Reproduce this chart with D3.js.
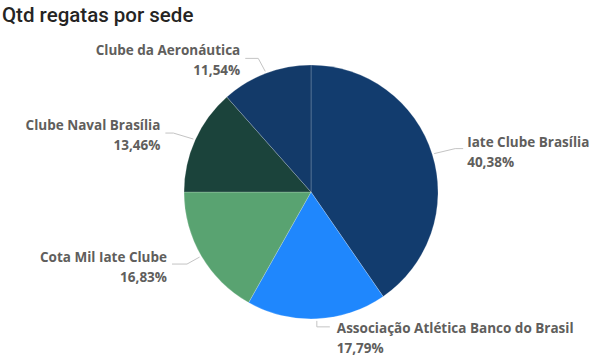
<!DOCTYPE html>
<html><head><meta charset="utf-8">
<script src="https://cdn.jsdelivr.net/npm/d3@7"></script>
<style>
body{margin:0;background:#fff;}
svg{display:block;}
</style></head>
<body>
<script>
const categories = ["Iate Clube Brasília","Associação Atlética Banco do Brasil","Cota Mil Iate Clube","Clube Naval Brasília","Clube da Aeronáutica"];
const values = [84, 37, 35, 28, 24];
const colors = ["#123c6e","#1f87fd","#59a371","#1b433b","#133a69"];

const W = 604, H = 357;
const cx = 311, cy = 192, r = 127;
const svg = d3.select("body").append("svg").attr("width", W).attr("height", H);

svg.append("text").attr("x", 2).attr("y", 22)
  .style("font-family", "Roboto, sans-serif").style("font-size", "20.5px").style("font-weight", 500)
  .attr("fill", "#252423").text("Qtd regatas por sede");

const data = categories.map((c, i) => ({name: c, value: values[i], color: colors[i]}));
const total = d3.sum(values);
const pie = d3.pie().value(d => d.value).sort(null);
const arcs = pie(data);
const arc = d3.arc().innerRadius(0).outerRadius(r);
const g = svg.append("g").attr("transform", `translate(${cx},${cy})`);
g.selectAll("path").data(arcs).join("path")
  .attr("d", arc).attr("fill", d => d.data.color)
  .attr("stroke", "#ffffff").attr("stroke-width", 0.4).attr("stroke-opacity", 0.5);

const fmt = v => (v * 100 / total).toFixed(2).replace(".", ",") + "%";
// leader/label layout offsets
const layout = [
  {bend: [21, -5], endLen: 8, side: 1, gap: 4, base: -2},
  {bend: [0, 6], endLen: 13, side: 1, gap: 7, base: 6},
  {bend: [-12.6, 7], endLen: 15, side: -1, gap: 5, base: -2},
  {bend: [-20, -6], endLen: 8, side: -1, gap: 5, base: -3},
  {bend: [-7, -13], endLen: 13, side: -1, gap: 5, base: -3}
];
const lab = svg.append("g");
arcs.forEach((a, i) => {
  const m = (a.startAngle + a.endAngle) / 2;
  const x0 = cx + (r + 2) * Math.sin(m), y0 = cy - (r + 2) * Math.cos(m);
  const L = layout[i];
  const x1 = x0 + L.bend[0], y1 = y0 + L.bend[1];
  const x2 = x1 + L.side * L.endLen, y2 = y1;
  lab.append("polyline").attr("points", `${x0},${y0} ${x1},${y1} ${x2},${y2}`)
    .attr("fill", "none").attr("stroke", "#c4c4c4").attr("stroke-width", 1);
  const tx = x2 + L.side * L.gap;
  const t = lab.append("text").attr("x", tx).attr("y", y2 + L.base)
    .attr("text-anchor", L.side > 0 ? "start" : "end")
    .style("font-family", "'Open Sans', sans-serif").style("font-size", "13.5px").style("font-weight", 700)
    .attr("fill", "#605e5c");
  t.append("tspan").attr("x", tx).attr("dy", 0).text(a.data.name);
  t.append("tspan").attr("x", tx).attr("dy", 20).text(fmt(a.data.value));
});
</script>
</body></html>
